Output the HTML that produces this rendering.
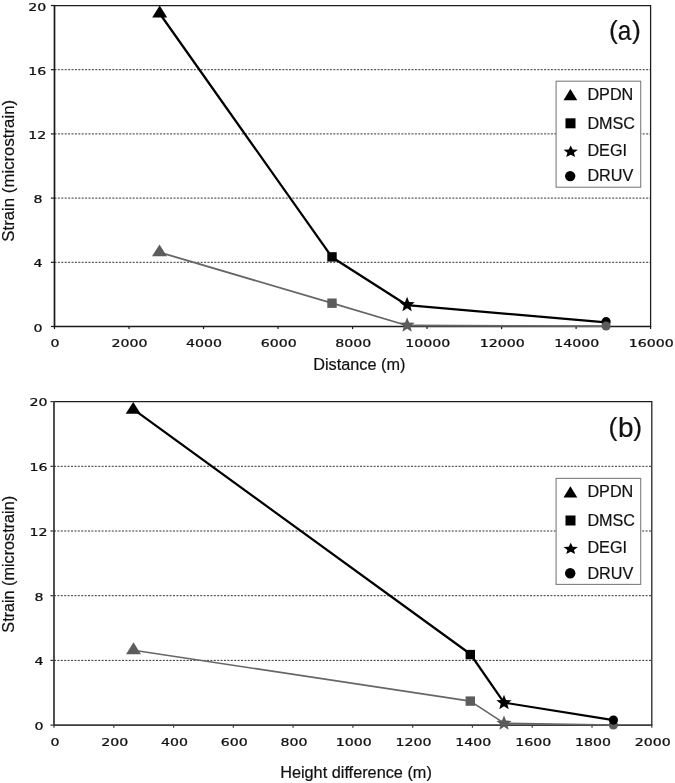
<!DOCTYPE html>
<html lang="en"><head><meta charset="utf-8"><title>Strain vs distance and height difference</title>
<style>
html,body{margin:0;padding:0;background:#fff;}
body{width:675px;height:783px;overflow:hidden;position:relative;}
svg{position:absolute;left:0;top:0;display:block;}
.tick{font-family:"DejaVu Sans","Liberation Sans",sans-serif;font-size:10.6px;fill:#111;stroke:#111;stroke-width:0.25px;}
.lab{font-family:"Liberation Sans",sans-serif;fill:#111;stroke:#111;stroke-width:0.2px;}
</style></head><body>
<svg width="675" height="783" viewBox="0 0 675 783">
<rect x="0" y="0" width="675" height="783" fill="#ffffff"/>
<line x1="54.5" y1="262.3" x2="650.6" y2="262.3" stroke="#333" stroke-width="1" stroke-dasharray="2 1.4"/>
<line x1="54.5" y1="198.1" x2="650.6" y2="198.1" stroke="#333" stroke-width="1" stroke-dasharray="2 1.4"/>
<line x1="54.5" y1="133.9" x2="650.6" y2="133.9" stroke="#333" stroke-width="1" stroke-dasharray="2 1.4"/>
<line x1="54.5" y1="69.7" x2="650.6" y2="69.7" stroke="#333" stroke-width="1" stroke-dasharray="2 1.4"/>
<polyline points="54.5,5.5 650.6,5.5 650.6,326.5" fill="none" stroke="#1c1c1c" stroke-width="1.25"/>
<polyline points="54.5,4.9 54.5,326.5 651.2,326.5" fill="none" stroke="#1a1a1a" stroke-width="1.7"/>
<line x1="50.9" y1="326.5" x2="54.5" y2="326.5" stroke="#1a1a1a" stroke-width="1.2"/>
<text class="tick" text-anchor="middle" transform="translate(38.1,331.55) scale(1.335,1)">0</text>
<line x1="50.9" y1="262.3" x2="54.5" y2="262.3" stroke="#1a1a1a" stroke-width="1.2"/>
<text class="tick" text-anchor="middle" transform="translate(38.1,267.35) scale(1.335,1)">4</text>
<line x1="50.9" y1="198.1" x2="54.5" y2="198.1" stroke="#1a1a1a" stroke-width="1.2"/>
<text class="tick" text-anchor="middle" transform="translate(38.1,203.15) scale(1.335,1)">8</text>
<line x1="50.9" y1="133.9" x2="54.5" y2="133.9" stroke="#1a1a1a" stroke-width="1.2"/>
<text class="tick" text-anchor="middle" transform="translate(37.2,138.95) scale(1.335,1)">12</text>
<line x1="50.9" y1="69.7" x2="54.5" y2="69.7" stroke="#1a1a1a" stroke-width="1.2"/>
<text class="tick" text-anchor="middle" transform="translate(37.2,74.75) scale(1.335,1)">16</text>
<line x1="50.9" y1="5.5" x2="54.5" y2="5.5" stroke="#1a1a1a" stroke-width="1.2"/>
<text class="tick" text-anchor="middle" transform="translate(37.2,10.55) scale(1.335,1)">20</text>
<line x1="54.5" y1="326.5" x2="54.5" y2="329.1" stroke="#1a1a1a" stroke-width="1.2"/>
<text class="tick" text-anchor="middle" transform="translate(55.1,347) scale(1.335,1)">0</text>
<line x1="129.01" y1="326.5" x2="129.01" y2="329.1" stroke="#1a1a1a" stroke-width="1.2"/>
<text class="tick" text-anchor="middle" transform="translate(129.61,347) scale(1.335,1)">2000</text>
<line x1="203.53" y1="326.5" x2="203.53" y2="329.1" stroke="#1a1a1a" stroke-width="1.2"/>
<text class="tick" text-anchor="middle" transform="translate(204.12,347) scale(1.335,1)">4000</text>
<line x1="278.04" y1="326.5" x2="278.04" y2="329.1" stroke="#1a1a1a" stroke-width="1.2"/>
<text class="tick" text-anchor="middle" transform="translate(278.64,347) scale(1.335,1)">6000</text>
<line x1="352.55" y1="326.5" x2="352.55" y2="329.1" stroke="#1a1a1a" stroke-width="1.2"/>
<text class="tick" text-anchor="middle" transform="translate(353.15,347) scale(1.335,1)">8000</text>
<line x1="427.06" y1="326.5" x2="427.06" y2="329.1" stroke="#1a1a1a" stroke-width="1.2"/>
<text class="tick" text-anchor="middle" transform="translate(427.66,347) scale(1.335,1)">10000</text>
<line x1="501.58" y1="326.5" x2="501.58" y2="329.1" stroke="#1a1a1a" stroke-width="1.2"/>
<text class="tick" text-anchor="middle" transform="translate(502.18,347) scale(1.335,1)">12000</text>
<line x1="576.09" y1="326.5" x2="576.09" y2="329.1" stroke="#1a1a1a" stroke-width="1.2"/>
<text class="tick" text-anchor="middle" transform="translate(576.69,347) scale(1.335,1)">14000</text>
<line x1="650.6" y1="326.5" x2="650.6" y2="329.1" stroke="#1a1a1a" stroke-width="1.2"/>
<text class="tick" text-anchor="middle" transform="translate(651.2,347) scale(1.335,1)">16000</text>
<text class="lab" font-size="16.8" text-anchor="middle" transform="translate(14,170.8) rotate(-90)">Strain (microstrain)</text>
<text class="lab" font-size="16.25" text-anchor="middle" x="359.3" y="370.4">Distance (m)</text>
<polyline points="159.7,13.5 332,257.2 407.1,305.2 606.1,322.3" fill="none" stroke="#000" stroke-width="2.25" stroke-linejoin="round"/>
<polygon points="159.7,5.6 167.2,17.5 152.2,17.5" fill="#000"/>
<rect x="327.3" y="252.2" width="9.4" height="9.4" fill="#000"/>
<polygon points="407.1,296.8 409.12,302.02 414.71,302.33 410.37,305.86 411.8,311.27 407.1,308.24 402.4,311.27 403.83,305.86 399.49,302.33 405.08,302.02" fill="#000"/>
<circle cx="606.1" cy="321.7" r="4.6" fill="#000"/>
<polyline points="159.5,252.3 332,303.2 407.1,325.5 606.1,326.2" fill="none" stroke="#666666" stroke-width="1.8" stroke-linejoin="round"/>
<polygon points="159.5,244.4 167,256.3 152,256.3" fill="#5c5c5c"/>
<rect x="327.3" y="298.5" width="9.4" height="9.4" fill="#5c5c5c"/>
<polygon points="407.1,317.2 409.12,322.42 414.71,322.73 410.37,326.26 411.8,331.67 407.1,328.64 402.4,331.67 403.83,326.26 399.49,322.73 405.08,322.42" fill="#5c5c5c"/>
<circle cx="606.1" cy="326" r="4.6" fill="#5c5c5c"/>
<text class="lab" font-size="26.5" x="609" y="38.7">(</text>
<text class="lab" font-size="28" text-anchor="middle" transform="translate(624.5,39.6) scale(0.87,1)">a</text>
<text class="lab" font-size="26.5" text-anchor="end" x="640.9" y="38.7">)</text>
<rect x="556.1" y="81.2" width="84.6" height="106" fill="#fff" stroke="#7d7d7d" stroke-width="1.1"/>
<polygon points="570.4,89.1 577.3,100.3 563.5,100.3" fill="#000"/>
<rect x="565.5" y="118.3" width="10" height="10" fill="#000"/>
<g transform="translate(570.7,151.6) scale(1.2,1)">
<polygon points="0,-6.1 1.67,-2.09 5.99,-1.75 2.7,1.08 3.7,5.3 0,3.04 -3.7,5.3 -2.7,1.08 -5.99,-1.75 -1.67,-2.09" fill="#000"/>
</g>
<circle cx="570.2" cy="176.1" r="5.2" fill="#000"/>
<text class="lab" font-size="16.2" x="587.4" y="100">DPDN</text>
<text class="lab" font-size="16.2" x="587.4" y="128.6">DMSC</text>
<text class="lab" font-size="16.2" x="587.4" y="156">DEGI</text>
<text class="lab" font-size="16.2" x="587.4" y="181.4">DRUV</text>
<line x1="54" y1="660.4" x2="651.8" y2="660.4" stroke="#333" stroke-width="1" stroke-dasharray="2 1.4"/>
<line x1="54" y1="595.7" x2="651.8" y2="595.7" stroke="#333" stroke-width="1" stroke-dasharray="2 1.4"/>
<line x1="54" y1="531" x2="651.8" y2="531" stroke="#333" stroke-width="1" stroke-dasharray="2 1.4"/>
<line x1="54" y1="466.3" x2="651.8" y2="466.3" stroke="#333" stroke-width="1" stroke-dasharray="2 1.4"/>
<polyline points="54,401.6 651.8,401.6 651.8,725.1" fill="none" stroke="#1c1c1c" stroke-width="1.25"/>
<polyline points="54,401 54,725.1 652.4,725.1" fill="none" stroke="#3c3c3c" stroke-width="1.8"/>
<line x1="50.4" y1="725.1" x2="54" y2="725.1" stroke="#3c3c3c" stroke-width="1.2"/>
<text class="tick" text-anchor="middle" transform="translate(38.9,729.9) scale(1.335,1)">0</text>
<line x1="50.4" y1="660.4" x2="54" y2="660.4" stroke="#3c3c3c" stroke-width="1.2"/>
<text class="tick" text-anchor="middle" transform="translate(38.9,665.2) scale(1.335,1)">4</text>
<line x1="50.4" y1="595.7" x2="54" y2="595.7" stroke="#3c3c3c" stroke-width="1.2"/>
<text class="tick" text-anchor="middle" transform="translate(38.9,600.5) scale(1.335,1)">8</text>
<line x1="50.4" y1="531" x2="54" y2="531" stroke="#3c3c3c" stroke-width="1.2"/>
<text class="tick" text-anchor="middle" transform="translate(38.4,535.8) scale(1.335,1)">12</text>
<line x1="50.4" y1="466.3" x2="54" y2="466.3" stroke="#3c3c3c" stroke-width="1.2"/>
<text class="tick" text-anchor="middle" transform="translate(38.4,471.1) scale(1.335,1)">16</text>
<line x1="50.4" y1="401.6" x2="54" y2="401.6" stroke="#3c3c3c" stroke-width="1.2"/>
<text class="tick" text-anchor="middle" transform="translate(38.4,406.4) scale(1.335,1)">20</text>
<line x1="54" y1="725.1" x2="54" y2="727.7" stroke="#3c3c3c" stroke-width="1.2"/>
<text class="tick" text-anchor="middle" transform="translate(54.9,745.8) scale(1.335,1)">0</text>
<line x1="113.78" y1="725.1" x2="113.78" y2="727.7" stroke="#3c3c3c" stroke-width="1.2"/>
<text class="tick" text-anchor="middle" transform="translate(114.68,745.8) scale(1.335,1)">200</text>
<line x1="173.56" y1="725.1" x2="173.56" y2="727.7" stroke="#3c3c3c" stroke-width="1.2"/>
<text class="tick" text-anchor="middle" transform="translate(174.46,745.8) scale(1.335,1)">400</text>
<line x1="233.34" y1="725.1" x2="233.34" y2="727.7" stroke="#3c3c3c" stroke-width="1.2"/>
<text class="tick" text-anchor="middle" transform="translate(234.24,745.8) scale(1.335,1)">600</text>
<line x1="293.12" y1="725.1" x2="293.12" y2="727.7" stroke="#3c3c3c" stroke-width="1.2"/>
<text class="tick" text-anchor="middle" transform="translate(294.02,745.8) scale(1.335,1)">800</text>
<line x1="352.9" y1="725.1" x2="352.9" y2="727.7" stroke="#3c3c3c" stroke-width="1.2"/>
<text class="tick" text-anchor="middle" transform="translate(353.8,745.8) scale(1.335,1)">1000</text>
<line x1="412.68" y1="725.1" x2="412.68" y2="727.7" stroke="#3c3c3c" stroke-width="1.2"/>
<text class="tick" text-anchor="middle" transform="translate(413.58,745.8) scale(1.335,1)">1200</text>
<line x1="472.46" y1="725.1" x2="472.46" y2="727.7" stroke="#3c3c3c" stroke-width="1.2"/>
<text class="tick" text-anchor="middle" transform="translate(473.36,745.8) scale(1.335,1)">1400</text>
<line x1="532.24" y1="725.1" x2="532.24" y2="727.7" stroke="#3c3c3c" stroke-width="1.2"/>
<text class="tick" text-anchor="middle" transform="translate(533.14,745.8) scale(1.335,1)">1600</text>
<line x1="592.02" y1="725.1" x2="592.02" y2="727.7" stroke="#3c3c3c" stroke-width="1.2"/>
<text class="tick" text-anchor="middle" transform="translate(592.92,745.8) scale(1.335,1)">1800</text>
<line x1="651.8" y1="725.1" x2="651.8" y2="727.7" stroke="#3c3c3c" stroke-width="1.2"/>
<text class="tick" text-anchor="middle" transform="translate(652.7,745.8) scale(1.335,1)">2000</text>
<text class="lab" font-size="16.2" text-anchor="middle" transform="translate(14,564.3) rotate(-90)">Strain (microstrain)</text>
<text class="lab" font-size="16.3" text-anchor="middle" x="356" y="778">Height difference (m)</text>
<polyline points="133.5,650.2 470.3,701.1 504,723.2 613.4,725" fill="none" stroke="#666666" stroke-width="1.6" stroke-linejoin="round"/>
<polygon points="133.5,642.3 141,654.2 126,654.2" fill="#5c5c5c"/>
<rect x="465.6" y="696.4" width="9.4" height="9.4" fill="#5c5c5c"/>
<polygon points="504,715.4 506.02,720.62 511.61,720.93 507.27,724.46 508.7,729.87 504,726.84 499.3,729.87 500.73,724.46 496.39,720.93 501.98,720.62" fill="#5c5c5c"/>
<circle cx="613.4" cy="725" r="4.6" fill="#5c5c5c"/>
<polyline points="133.2,409.2 470.3,654 504,702.6 613.4,720.1" fill="none" stroke="#000" stroke-width="2.2" stroke-linejoin="round"/>
<polygon points="133.2,401.9 140.7,413.8 125.7,413.8" fill="#000"/>
<rect x="465.6" y="649.9" width="9.4" height="9.4" fill="#000"/>
<polygon points="504,694.8 506.02,700.02 511.61,700.33 507.27,703.86 508.7,709.27 504,706.24 499.3,709.27 500.73,703.86 496.39,700.33 501.98,700.02" fill="#000"/>
<circle cx="613.4" cy="720.1" r="4.6" fill="#000"/>
<text class="lab" font-size="26.5" x="608.6" y="436">(</text>
<text class="lab" font-size="28" text-anchor="middle" transform="translate(625.9,437) scale(1.0,1)">b</text>
<text class="lab" font-size="26.5" text-anchor="end" x="642.1" y="436">)</text>
<rect x="556.1" y="478.4" width="84.6" height="106" fill="#fff" stroke="#7d7d7d" stroke-width="1.1"/>
<polygon points="570.4,486.3 577.3,497.5 563.5,497.5" fill="#000"/>
<rect x="565.5" y="515.5" width="10" height="10" fill="#000"/>
<g transform="translate(570.7,548.8) scale(1.2,1)">
<polygon points="0,-6.1 1.67,-2.09 5.99,-1.75 2.7,1.08 3.7,5.3 0,3.04 -3.7,5.3 -2.7,1.08 -5.99,-1.75 -1.67,-2.09" fill="#000"/>
</g>
<circle cx="570.2" cy="573.3" r="5.2" fill="#000"/>
<text class="lab" font-size="16.2" x="587.4" y="497.2">DPDN</text>
<text class="lab" font-size="16.2" x="587.4" y="525.8">DMSC</text>
<text class="lab" font-size="16.2" x="587.4" y="553.2">DEGI</text>
<text class="lab" font-size="16.2" x="587.4" y="578.6">DRUV</text>
</svg></body></html>
